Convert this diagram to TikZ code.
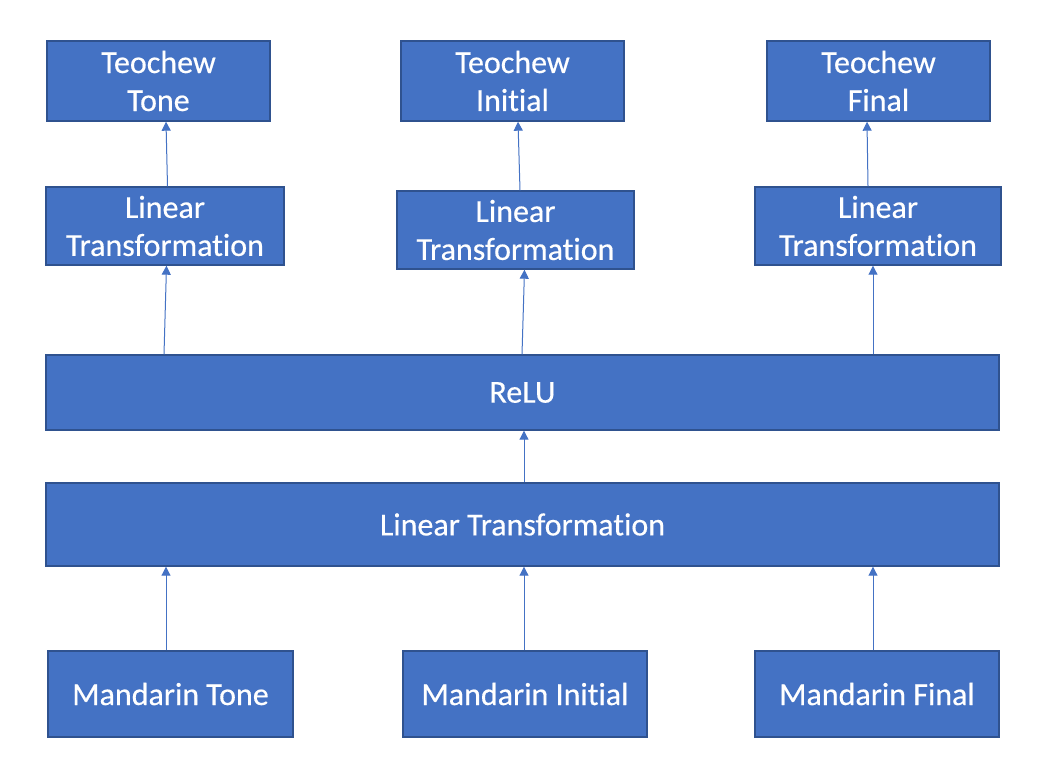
\documentclass[tikz,border=0pt]{standalone}
\usepackage{fontspec}
\setmainfont{Carlito}[Ligatures={NoCommon,NoRequired,NoContextual},FakeBold=0.4]
\usetikzlibrary{arrows.meta}
\definecolor{boxfill}{HTML}{4472C4}
\definecolor{boxline}{HTML}{2F528F}
\begin{document}
\begin{tikzpicture}[x=1pt,y=-1pt,
  box/.style={draw=boxline,fill=boxfill,line width=1.4pt,text=white,align=center,
    inner sep=0pt,font=\fontsize{32}{38}\selectfont},
  arr/.style={draw=boxfill,line width=1pt,-{Triangle[width=9pt,length=9pt]}}]
\useasboundingbox (0,0) rectangle (1038,776);
\fill[white] (0,0) rectangle (1038,776);
% top row
\node[box,minimum width=223pt,minimum height=80pt] (tt) at (158.5,81) {Teochew\\Tone};
\node[box,minimum width=223pt,minimum height=80pt] (ti) at (512.5,81) {Teochew\\Initial};
\node[box,minimum width=223pt,minimum height=80pt] (tf) at (878.5,81) {Teochew\\Final};
% linear transformations
\node[box,minimum width=238pt,minimum height=78pt] (lt1) at (165,226) {Linear\\Transformation};
\node[box,minimum width=237pt,minimum height=78pt] (lt2) at (515.5,230) {Linear\\Transformation};
\node[box,minimum width=246pt,minimum height=78pt] (lt3) at (878,226) {Linear\\Transformation};
% wide boxes
\node[box,minimum width=953pt,minimum height=75pt] (relu) at (522.5,392.5) {ReLU};
\node[box,minimum width=953pt,minimum height=83pt] (lt) at (522.5,524.5) {Linear Transformation};
% bottom row
\node[box,minimum width=245pt,minimum height=86pt] (mt) at (170.5,694) {Mandarin Tone};
\node[box,minimum width=244pt,minimum height=86pt] (mi) at (525,694) {Mandarin Initial};
\node[box,minimum width=244pt,minimum height=86pt] (mf) at (877,694) {Mandarin Final};
% connectors
\draw[arr] (mt.north -| 166,0) -- (lt.south -| 166,0);
\draw[arr] (mi.north -| 524,0) -- (lt.south -| 524,0);
\draw[arr] (mf.north -| 873,0) -- (lt.south -| 873,0);
\draw[arr] (lt.north -| 524,0) -- (relu.south -| 524,0);
\draw[arr] (relu.north -| 164,0) -- (lt1.south -| 166.5,0);
\draw[arr] (relu.north -| 522,0) -- (lt2.south -| 524.5,0);
\draw[arr] (relu.north -| 873,0) -- (lt3.south -| 873,0);
\draw[arr] (lt1.north -| 167.5,0) -- (tt.south -| 166,0);
\draw[arr] (lt2.north -| 520,0) -- (ti.south -| 518,0);
\draw[arr] (lt3.north -| 868,0) -- (tf.south -| 867,0);
\end{tikzpicture}
\end{document}
